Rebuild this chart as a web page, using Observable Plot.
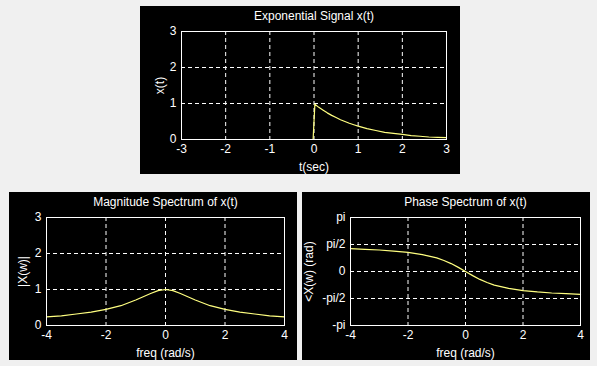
<!DOCTYPE html>
<html>
<head>
<meta charset="utf-8">
<script src="https://cdn.jsdelivr.net/npm/d3@7"></script>
<script src="https://cdn.jsdelivr.net/npm/@observablehq/plot@0.6"></script>
<style>
  html, body { margin: 0; padding: 0; background: #f0f0f0; }
  #fig { position: relative; width: 597px; height: 366px; overflow: hidden; background: #f0f0f0; }
  .panel { position: absolute; background: #000; }
  .panel svg { display: block; }
</style>
</head>
<body>
<div id="fig"></div>
<script>
// ---- Data ----
const tValues = [-3, -0.02, 0, 0.02, 0.1, 0.2, 0.3, 0.4, 0.5, 0.6, 0.7, 0.8, 0.9, 1.0, 1.2, 1.4, 1.6, 1.8, 2.0, 2.2, 2.4, 2.6, 2.8, 3.0];
const xValues = [0, 0, 0.5, 0.98, 0.90, 0.82, 0.74, 0.67, 0.61, 0.55, 0.50, 0.45, 0.41, 0.37, 0.30, 0.25, 0.20, 0.17, 0.14, 0.11, 0.09, 0.07, 0.06, 0.05];

const wValues     = [-4, -3.5, -3, -2.5, -2, -1.5, -1, -0.75, -0.5, -0.25, 0, 0.25, 0.5, 0.75, 1, 1.5, 2, 2.5, 3, 3.5, 4];
const magValues   = [0.24, 0.27, 0.32, 0.37, 0.45, 0.55, 0.71, 0.80, 0.89, 0.97, 1.0, 0.97, 0.89, 0.80, 0.71, 0.55, 0.45, 0.37, 0.32, 0.27, 0.24];
const phaseValues = [1.33, 1.29, 1.25, 1.19, 1.11, 0.98, 0.79, 0.64, 0.46, 0.24, 0, -0.24, -0.46, -0.64, -0.79, -0.98, -1.11, -1.19, -1.25, -1.29, -1.33];

const tTicks = [-3, -2, -1, 0, 1, 2, 3];
const xTicks = [0, 1, 2, 3];
const wTicks = [-4, -2, 0, 2, 4];
const magTicks = [0, 1, 2, 3];
const phaseTicks = [-Math.PI, -Math.PI / 2, 0, Math.PI / 2, Math.PI];
const phaseTickLabels = ["-pi", "-pi/2", "0", "pi/2", "pi"];

const titles = ["Exponential Signal x(t)", "Magnitude Spectrum of x(t)", "Phase Spectrum of x(t)"];
const xLabels = ["t(sec)", "freq (rad/s)", "freq (rad/s)"];
const yLabels = ["x(t)", "|X(w)|", "<X(w) (rad)"];

// ---- Drawing ----
const LINE = "#ffff80";
const FONT = "background:#000;color:#fff;font:12px 'Liberation Sans',Arial,Helvetica,sans-serif;overflow:visible;";
const fig = document.getElementById("fig");
const plain = d => String(d);

function panel({left, top, width, height, mL, mR, mT, mB, data, xd, yd, xt, yt, ytf, title, xlabel, ylabel, ylabelDx}) {
  const div = document.createElement("div");
  div.className = "panel";
  Object.assign(div.style, {left: left + "px", top: top + "px", width: width + "px", height: height + "px"});
  const interior = (ticks, d) => ticks.filter(v => v > d[0] + 1e-9 && v < d[1] - 1e-9);
  const chart = Plot.plot({
    width, height,
    marginLeft: mL, marginRight: mR, marginTop: mT, marginBottom: mB,
    style: FONT,
    x: {domain: xd},
    y: {domain: yd},
    marks: [
      Plot.gridX(interior(xt, xd), {stroke: "#fff", strokeOpacity: 1, strokeDasharray: "4,3"}),
      Plot.gridY(interior(yt, yd), {stroke: "#fff", strokeOpacity: 1, strokeDasharray: "4,3"}),
      Plot.line(data, {x: "x", y: "y", stroke: LINE, strokeWidth: 1.2}),
      Plot.frame({stroke: "#fff"}),
      Plot.axisX({ticks: xt, tickSize: 0, tickPadding: 5, label: null, fill: "#fff", fontSize: 12, tickFormat: plain}),
      Plot.axisY({ticks: yt, tickSize: 0, tickPadding: 5, label: null, fill: "#fff", fontSize: 12, tickFormat: ytf}),
      Plot.text([title], {frameAnchor: "top", dy: -15, textAnchor: "middle", lineAnchor: "middle", fill: "#fff", fontSize: 12}),
      Plot.text([xlabel], {frameAnchor: "bottom", dy: 28, textAnchor: "middle", lineAnchor: "middle", fill: "#fff", fontSize: 12}),
      Plot.text([ylabel], {frameAnchor: "left", dx: ylabelDx, rotate: -90, textAnchor: "middle", lineAnchor: "middle", fill: "#fff", fontSize: 12})
    ]
  });
  div.appendChild(chart);
  fig.appendChild(div);
}

panel({
  left: 140, top: 6, width: 320, height: 168, mL: 41, mR: 14, mT: 25, mB: 35,
  data: tValues.map((t, i) => ({x: t, y: xValues[i]})),
  xd: [-3, 3], yd: [0, 3], xt: tTicks, yt: xTicks, ytf: plain,
  title: titles[0], xlabel: xLabels[0], ylabel: yLabels[0], ylabelDx: -21
});

panel({
  left: 9, top: 192, width: 288, height: 168, mL: 37, mR: 13, mT: 25, mB: 35,
  data: wValues.map((w, i) => ({x: w, y: magValues[i]})),
  xd: [-4, 4], yd: [0, 3], xt: wTicks, yt: magTicks, ytf: plain,
  title: titles[1], xlabel: xLabels[1], ylabel: yLabels[1], ylabelDx: -23
});

panel({
  left: 302, top: 192, width: 288, height: 168, mL: 48, mR: 10, mT: 25, mB: 35,
  data: wValues.map((w, i) => ({x: w, y: phaseValues[i]})),
  xd: [-4, 4], yd: [-Math.PI, Math.PI], xt: wTicks, yt: phaseTicks,
  ytf: d => phaseTickLabels[phaseTicks.findIndex(v => Math.abs(v - d) < 1e-9)],
  title: titles[2], xlabel: xLabels[2], ylabel: yLabels[2], ylabelDx: -41
});
</script>
</body>
</html>
